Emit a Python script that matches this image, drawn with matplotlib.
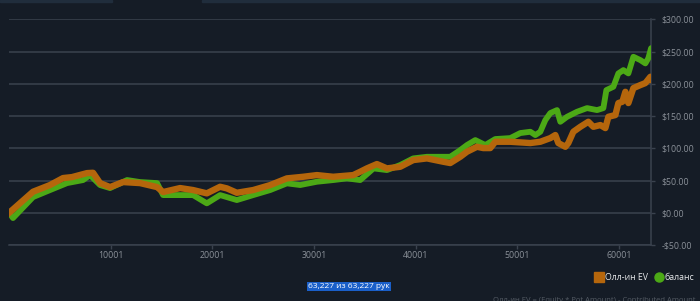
import matplotlib
matplotlib.use("Agg")
import matplotlib.pyplot as plt
from matplotlib.lines import Line2D
from matplotlib.patches import Rectangle

plt.rcParams["font.family"] = ["Open Sans", "DejaVu Sans"]

# ---------- DATA ----------
EV_HANDS = [1, 2345, 4019, 5300, 6186, 7663, 8254, 8943, 9929, 11210, 12884,
            14558, 15149, 16822, 18103, 19453, 20762, 21423, 22408, 24013,
            25688, 27333, 28939, 30289, 31894, 33864, 34553, 35213, 36198,
            37183, 38494, 39774, 41124, 42729, 43418, 44403, 45063, 46048,
            46669, 47358, 47851, 49328, 51298, 52283, 53268, 53761, 54056,
            54746, 55041, 55534, 56223, 57011, 57504, 58193, 58686, 58981,
            59671, 59966, 60360, 60655, 60951, 61443, 62133, 62625, 63118,
            63227]
EV_VALUES = [0, 32.6, 43.0, 53.8, 55.3, 61.5, 62.0, 46.0, 39.8, 47.6, 46.0,
             39.8, 32.1, 38.3, 35.2, 30.1, 40.3, 37.8, 31.0, 35.2,
             42.9, 53.3, 55.8, 58.4, 55.8, 58.4, 63.6, 68.8, 75.5,
             68.8, 71.3, 81.7, 84.3, 79.1, 77.1, 86.8, 94.6, 102.3,
             100.3, 100.3, 110.1, 110.1, 108.1, 110.1, 115.8, 120.5, 108.1,
             102.3, 108.1, 125.6, 133.3, 141.1, 133.3, 136.0, 131.3, 148.8,
             151.5, 170.1, 172.1, 187.6, 170.1, 193.3, 198.0, 201.1, 210.9,
             207.0]

BAL_HANDS = [1, 375, 2345, 4019, 5694, 7270, 7959, 8943, 9929, 11604, 12884,
             14558, 15149, 16822, 18103, 19453, 20762, 22408, 24013, 25688,
             27333, 28644, 30289, 31894, 33243, 34553, 35863, 37183, 38494,
             39774, 41124, 42729, 43418, 44403, 45063, 45881, 46866, 47851,
             49328, 50313, 51298, 51791, 52283, 52776, 53268, 53928, 54253,
             54913, 55898, 56883, 57868, 58489, 58784, 59473, 59966, 60458,
             60951, 61443, 62133, 62625, 62921, 63187, 63227]
BAL_VALUES = [0, -8.2, 24.3, 35.2, 46.0, 50.7, 58.5, 43.0, 38.3, 50.7, 47.6,
              46.0, 27.4, 27.4, 27.4, 14.6, 27.4, 19.7, 27.4, 35.2,
              45.6, 43.0, 48.1, 50.7, 53.3, 50.7, 68.8, 66.2, 74.0,
              84.3, 86.8, 86.8, 86.8, 97.2, 105.0, 112.7, 105.0, 114.3,
              115.8, 123.6, 125.6, 120.5, 125.6, 143.7, 154.6, 159.2, 141.1,
              148.8, 156.6, 162.3, 159.2, 162.3, 190.2, 195.4, 216.1, 221.2,
              216.1, 241.9, 236.7, 231.6, 239.8, 255.3, 248.0]

X_TICKS = [10001, 20001, 30001, 40001, 50001, 60001]
Y_TICKS = [-50, 0, 50, 100, 150, 200, 250, 300]
TOTAL_HANDS = 63227
LABELS = ["Олл-ин EV", "баланс"]

# ---------- COLORS ----------
BG     = "#151c26"
GRID   = "#3a424e"
TXT    = "#8b9199"
ORANGE = "#b5660c"
GREEN  = "#4ca916"

fig = plt.figure(figsize=(7.0, 3.01), dpi=100)
fig.patch.set_facecolor(BG)
ax = fig.add_axes([9.2 / 700, 1 - 245 / 301, 642.3 / 700, 225.7 / 301])
ax.set_facecolor(BG)

ax.plot(BAL_HANDS, BAL_VALUES, color=GREEN, linewidth=4.2, zorder=3)
ax.plot(EV_HANDS, EV_VALUES, color=ORANGE, linewidth=4.6, zorder=4)

ax.set_xlim(1, TOTAL_HANDS)
ax.set_ylim(-50, 300)
ax.set_xticks(X_TICKS)
ax.set_xticklabels([str(t) for t in X_TICKS])
ax.set_yticks(Y_TICKS)
ax.set_yticklabels([f"-${abs(v):.2f}" if v < 0 else f"${v:.2f}" for v in Y_TICKS])
ax.yaxis.tick_right()

ax.grid(True, axis="y", color=GRID, linewidth=1.1)
ax.set_axisbelow(True)
ax.tick_params(axis="both", colors=GRID, labelcolor=TXT, labelsize=6.3,
               length=3, width=1)
ax.tick_params(axis="y", pad=4.5)
ax.tick_params(axis="x", pad=1.5)

for side in ("left", "top"):
    ax.spines[side].set_visible(False)
for side in ("right", "bottom"):
    ax.spines[side].set_edgecolor(GRID)
    ax.spines[side].set_linewidth(1.1)

handles = [
    Line2D([], [], linestyle="none", marker="s", markersize=6.5,
           color=ORANGE),
    Line2D([], [], linestyle="none", marker="o", markersize=6.5,
           color=GREEN),
]
leg = fig.legend(handles, LABELS, loc="center right",
                 bbox_to_anchor=(0.997, 1 - 278 / 301), ncol=2,
                 frameon=False, fontsize=6.3, handlelength=0.8,
                 handletextpad=0.3, columnspacing=0.8, borderaxespad=0)
for t in leg.get_texts():
    t.set_color("#e8eaec")

fig.text(349 / 700, 1 - 286.5 / 301, f"{TOTAL_HANDS:,} из {TOTAL_HANDS:,} рук",
         ha="center", va="center", color="white", fontsize=6,
         bbox=dict(facecolor="#1a5fc9", edgecolor="none", pad=0.8))

fig.text(493 / 700, 1 - 296.5 / 301,
         "Олл-ин EV = (Equity * Pot Amount) - Contributed Amount",
         ha="left", va="top", color="#545b64", fontsize=5.5)

# thin strips along the top edge
for x0, w in ((0, 112), (202, 498)):
    fig.patches.append(Rectangle((x0 / 700, 1 - 2 / 301), w / 700, 2 / 301,
                                 transform=fig.transFigure, color="#202d3c",
                                 zorder=0))

fig.savefig("out.png", dpi=100, facecolor=BG)
